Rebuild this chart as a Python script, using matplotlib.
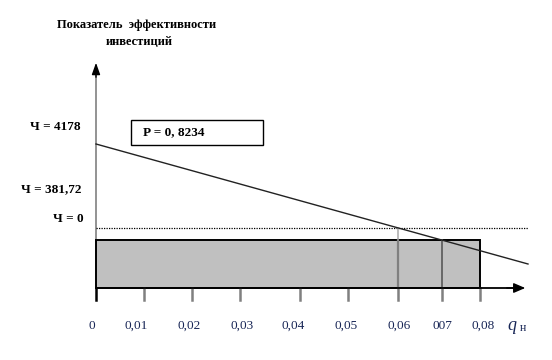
import matplotlib
matplotlib.use("Agg")
import matplotlib.pyplot as plt
from matplotlib.patches import Rectangle

plt.rcParams['font.family'] = ['Liberation Serif', 'DejaVu Serif']

# ---- data (schematic) ----
title_lines = ["Показатель  эффективности", "инвестиций"]
q_tick_labels = ["0", "0,01", "0,02", "0,03", "0,04", "0,05", "0,06", "007", "0,08"]
y_labels = ["Ч = 4178", "Ч = 381,72", "Ч = 0"]
p_label = "P = 0, 8234"
# efficiency line (schematic units): start / end
line_q = [0.0, 0.09]
line_v = [144.0, 24.0]
# zero level and reference rectangle
zero_level = 60.0
rect_q = [0.0, 0.08]
rect_v = [0.0, 48.0]

# intersections of the line with the zero level and the rectangle top
slope = (line_v[1] - line_v[0]) / (line_q[1] - line_q[0])
q_zero = line_q[0] + (zero_level - line_v[0]) / slope
q_rect = line_q[0] + (rect_v[1] - line_v[0]) / slope

# ---- layout (positions) ----
tick_pos = [0.0, 0.01, 0.02, 0.03, 0.0425, 0.0525, q_zero, q_rect, 0.08]
label_pos = [-0.0008, 0.0083, 0.0194, 0.0304, 0.0410, 0.0521, 0.0631, 0.0721, 0.0806]

fig = plt.figure(figsize=(5.52, 3.6), dpi=100)
ax = fig.add_axes([0, 0, 1, 1])
ax.set_xlim(-0.02, 0.095)
ax.set_ylim(-72, 288)
ax.axis('off')

# rectangle
ax.add_patch(Rectangle((rect_q[0], rect_v[0]), rect_q[1] - rect_q[0], rect_v[1] - rect_v[0],
                       facecolor='#c0c0c0', edgecolor='black', linewidth=1.4, zorder=2))

# dotted zero line
ax.plot([0, 0.09], [zero_level, zero_level], color='black', linestyle=(0, (1, 1)),
        linewidth=0.9, zorder=3)

# efficiency line
ax.plot(line_q, line_v, color='#222222', linewidth=1.0, zorder=4)

# intersection verticals
ax.plot([q_zero, q_zero], [rect_v[1], zero_level], color='#b0b0b0', linewidth=1.2, zorder=3)
ax.plot([q_zero, q_zero], [0, rect_v[1]], color='#808080', linewidth=1.6, zorder=3)
ax.plot([q_rect, q_rect], [0, rect_v[1]], color='#606060', linewidth=1.3, zorder=3)

# ticks
for t in tick_pos:
    ax.plot([t, t], [-12, 0], color='#808080' if t > 0 else 'black', linewidth=1.8, zorder=3)

# axes arrows
ax.plot([0, 0], [48, 212], color='#808080', linewidth=1.2, zorder=1)
ax.annotate('', xy=(0, 228), xytext=(0, 208),
            arrowprops=dict(arrowstyle='-|>,head_length=0.7,head_width=0.25',
                            color='black', lw=1.0))
ax.plot([0, 0.087], [0, 0], color='black', linewidth=1.3, zorder=5)
ax.annotate('', xy=(0.09, 0), xytext=(0.085, 0),
            arrowprops=dict(arrowstyle='-|>,head_length=0.7,head_width=0.3',
                            color='black', lw=1.0), zorder=5)

# tick labels
for x, lab in zip(label_pos, q_tick_labels):
    ax.text(x, -38, lab, ha='center', va='center', fontsize=9.5, color='#182656')

ax.text(0.0867, -38, 'q', ha='center', va='center', fontsize=13, fontstyle='italic',
        color='#182656')
ax.text(0.0890, -40, 'н', ha='center', va='center', fontsize=8.5, color='#182656')

# y labels
ax.text(-0.0137, 161, y_labels[0], ha='left', va='center', fontsize=9.5, fontweight='bold')
ax.text(-0.0156, 99, y_labels[1], ha='left', va='center', fontsize=9.5, fontweight='bold')
ax.text(-0.0090, 69, y_labels[2], ha='left', va='center', fontsize=9.5, fontweight='bold')

# P box
ax.add_patch(Rectangle((0.0073, 143), 0.0275, 25, facecolor='white', edgecolor='black',
                       linewidth=1.0, zorder=6))
ax.text(0.0098, 156, p_label, ha='left', va='center', fontsize=9.5, fontweight='bold', zorder=7)

# title
ax.text(0.0085, 263, title_lines[0], ha='center', va='center', fontsize=9,
        fontweight='bold')
ax.text(0.0090, 246, title_lines[1], ha='center', va='center', fontsize=9,
        fontweight='bold')

fig.savefig('out.png', dpi=100)
